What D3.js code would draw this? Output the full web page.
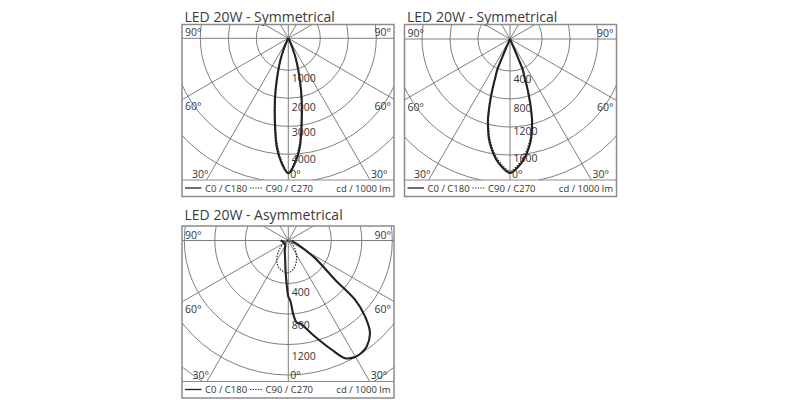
<!DOCTYPE html>
<html><head><meta charset="utf-8">
<script src="https://cdn.jsdelivr.net/npm/d3@7"></script>
<style>
body{margin:0;background:#fff}
svg{display:block}
text{font-family:"Open Sans",sans-serif;fill:#333}
</style>
</head><body>
<svg id="c" width="800" height="400"></svg>
<script>
// ---------- DATA ----------
const titles = ["LED 20W - Symmetrical", "LED 20W - Symmetrical", "LED 20W - Asymmetrical"];
const legendLabels = ["C0 / C180", "C90 / C270", "cd / 1000 lm"];
const spokeAngles = [0, 30, 60, 90, 120, 150];

// Panel 1 (cd/1000lm)
const p1Rings = [1000, 2000, 3000, 4000, 5000];
const p1Ticks = ["1000", "2000", "3000", "4000"];
const p1Angles = [-90, -40, -30, -25, -22.5, -20, -17.5, -15, -12.5, -9, -6, -3, 0, 3, 6, 9, 12.5, 15, 17.5, 20, 22.5, 25, 30, 40, 90];
const p1C0 =     [0, 0, 50, 190, 420, 720, 1040, 1500, 2060, 2920, 3780, 4330, 4680, 4330, 3780, 2920, 2060, 1500, 1040, 720, 420, 190, 50, 0, 0];
const p1C90 =    [0, 0, 40, 170, 380, 660, 960, 1400, 1950, 2800, 3650, 4250, 4650, 4250, 3650, 2800, 1950, 1400, 960, 660, 380, 170, 40, 0, 0];

// Panel 2
const p2Rings = [400, 800, 1200, 1600, 2000];
const p2Ticks = ["400", "800", "1200", "1600"];
const p2Angles = [-90, -25, -23.2, -23, -22.6, -20.6, -19.3, -18, -16.7, -15.4, -13.7, -11.9, -9.5, -6.7, -3.6, 0, 3.6, 6.7, 9.5, 11.9, 13.7, 15.4, 16.7, 18, 19.3, 20.6, 22.6, 23, 23.2, 25, 90];
const p2C0 =     [0, 0, 150, 270, 410, 553, 700, 844, 987, 1129, 1266, 1403, 1536, 1669, 1774, 1857, 1774, 1669, 1536, 1403, 1266, 1129, 987, 844, 700, 553, 410, 270, 150, 0, 0];
const p2C90 =    [0, 0, 140, 255, 390, 530, 675, 815, 955, 1095, 1230, 1365, 1500, 1635, 1745, 1830, 1745, 1635, 1500, 1365, 1230, 1095, 955, 815, 675, 530, 390, 255, 140, 0, 0];

// Panel 3 (asymmetrical)
const p3Rings = [400, 800, 1200, 1600, 2000];
const p3Ticks = ["400", "800", "1200"];
const p3AnglesC0 = [-90, -75, -60, -45, -30, -20, -10, -5, -2, 0, 2, 4, 6, 8, 12, 15.5, 21.7, 25.7, 29.8, 33, 36.5, 41.4, 45.3, 48.4, 50, 56.6, 66.7, 75, 90];
const p3C0 =       [70, 50, 45, 45, 55, 95, 170, 290, 420, 570, 630, 820, 920, 935, 1030, 1142, 1378, 1549, 1597, 1595, 1565, 1456, 1252, 1006, 636, 298, 101, 50, 30];
const p3AnglesC90 = [-90, -80, -70, -60, -50, -40, -30, -20, -10, 0, 10, 20, 30, 40, 50, 60, 70, 80, 90];
const p3C90 =       [0, 8, 20, 45, 90, 150, 215, 265, 290, 300, 270, 215, 150, 90, 45, 20, 8, 3, 0];

// ---------- LAYOUT ----------
const W = 212, PH = 155.5, LH = 16.5;
const panels = [
  {id: 1, title: titles[0], rings: p1Rings, ticks: p1Ticks, rDomain: [0, 1000, 5000], rRange: [0, 32, 144],
   lay: {left: 182, top: 24.5, cx: 288.3, cy: 38.3, tickOff: [11.5, 12.5, 10, 8.5], titleY: 21.7},
   series: [{a: p1Angles, v: p1C90, dash: true}, {a: p1Angles, v: p1C0, dash: false}]},
  {id: 2, title: titles[1], rings: p2Rings, ticks: p2Ticks, rDomain: [0, 400, 2000], rRange: [0, 32, 144],
   lay: {left: 404.5, top: 24.5, cx: 510, cy: 39, tickOff: [12.3, 12.7, 8, 6.7], titleY: 21.7},
   series: [{a: p2Angles, v: p2C90, dash: true}, {a: p2Angles, v: p2C0, dash: false}]},
  {id: 3, title: titles[2], rings: p3Rings, ticks: p3Ticks, rDomain: [0, 400, 2000], rRange: [0, 43, 165],
   lay: {left: 182, top: 226, cx: 288.3, cy: 240.5, tickOff: [12.5, 14.5, 15], titleY: 220},
   series: [{a: p3AnglesC90, v: p3C90, dash: true}, {a: p3AnglesC0, v: p3C0, dash: false}]}
];

const svg = d3.select("#c");
const defs = svg.append("defs");
const rad = d => d * Math.PI / 180;

panels.forEach(p => {
  const {left, top, cx, cy, tickOff, titleY} = p.lay;
  const sep = top + PH;
  const g = svg.append("g");
  const r = d3.scaleLinear().domain(p.rDomain).range(p.rRange);

  g.append("text").attr("x", left + 2.5).attr("y", titleY)
    .style("font-size", "14px").style("fill", "#3a3a3a").text(p.title);

  defs.append("clipPath").attr("id", "clip" + p.id)
    .append("rect").attr("x", left).attr("y", top).attr("width", W).attr("height", PH);

  const grid = g.append("g").attr("clip-path", `url(#clip${p.id})`);
  grid.selectAll("circle").data(p.rings).join("circle")
    .attr("cx", cx).attr("cy", cy).attr("r", d => r(d))
    .attr("fill", "none").attr("stroke", "#707070").attr("stroke-width", 0.9);
  const L = 400;
  grid.selectAll("line").data(spokeAngles).join("line")
    .attr("x1", d => cx - L * Math.sin(rad(d))).attr("y1", d => cy - L * Math.cos(rad(d)))
    .attr("x2", d => cx + L * Math.sin(rad(d))).attr("y2", d => cy + L * Math.cos(rad(d)))
    .attr("stroke", "#707070").attr("stroke-width", 0.9);

  // curves
  const line = d3.lineRadial()
    .angle(d => Math.PI - rad(d[0]))
    .radius(d => r(d[1]))
    .curve(d3.curveCatmullRom.alpha(0.5));
  const cg = g.append("g").attr("transform", `translate(${cx},${cy})`);
  p.series.forEach(s => {
    const pts = s.a.map((a, i) => [a, s.v[i]]);
    cg.append("path").attr("d", line(pts)).attr("fill", "none")
      .attr("stroke", "#222")
      .attr("stroke-width", s.dash ? 1.2 : 2.1)
      .attr("stroke-dasharray", s.dash ? "1.4,1.4" : null)
      .attr("stroke-linejoin", "round");
  });

  // tick labels
  g.selectAll("text.tick").data(p.ticks).join("text").attr("class", "tick")
    .attr("x", cx + 3.5).attr("y", (d, i) => cy + r(p.rings[i]) + tickOff[i])
    .style("font-size", "10.5px").text(d => d);

  // angle labels
  const fs = "10.5px";
  const t30 = Math.tan(rad(30)) * (sep - cy);
  const al = [
    {t: "90°", x: left + 3, y: cy - 2, anchor: "start"},
    {t: "90°", x: left + W - 3, y: cy - 2, anchor: "end"},
    {t: "60°", x: left + 3, y: cy + 72, anchor: "start"},
    {t: "60°", x: left + W - 3, y: cy + 72, anchor: "end"},
    {t: "30°", x: cx - t30 + 2, y: sep - 2.5, anchor: "end"},
    {t: "30°", x: cx + t30 + 1, y: sep - 2.5, anchor: "start"},
    {t: "0°", x: cx + 2, y: sep - 2.5, anchor: "start"}
  ];
  g.selectAll("text.ang").data(al).join("text").attr("class", "ang")
    .attr("x", d => d.x).attr("y", d => d.y).attr("text-anchor", d => d.anchor)
    .style("font-size", fs).text(d => d.t);

  // box
  g.append("rect").attr("x", left).attr("y", top).attr("width", W).attr("height", PH + LH)
    .attr("fill", "none").attr("stroke", "#8c8c8c").attr("stroke-width", 1.5);
  g.append("line").attr("x1", left).attr("x2", left + W).attr("y1", sep).attr("y2", sep)
    .attr("stroke", "#8c8c8c").attr("stroke-width", 1.2);

  // legend
  const ly = sep + 8;
  g.append("line").attr("x1", left + 3).attr("x2", left + 19.5).attr("y1", ly).attr("y2", ly)
    .attr("stroke", "#222").attr("stroke-width", 1.3);
  g.append("text").attr("x", left + 23).attr("y", sep + 11.5).style("font-size", "9.5px").text(legendLabels[0]);
  g.append("line").attr("x1", left + 68).attr("x2", left + 80.5).attr("y1", ly).attr("y2", ly)
    .attr("stroke", "#222").attr("stroke-width", 1.1).attr("stroke-dasharray", "1.3,1.3");
  g.append("text").attr("x", left + 83.5).attr("y", sep + 11.5).style("font-size", "9.5px").text(legendLabels[1]);
  g.append("text").attr("x", left + W - 3.5).attr("y", sep + 11.5).attr("text-anchor", "end")
    .style("font-size", "9.5px").text(legendLabels[2]);
});
</script>
</body></html>
